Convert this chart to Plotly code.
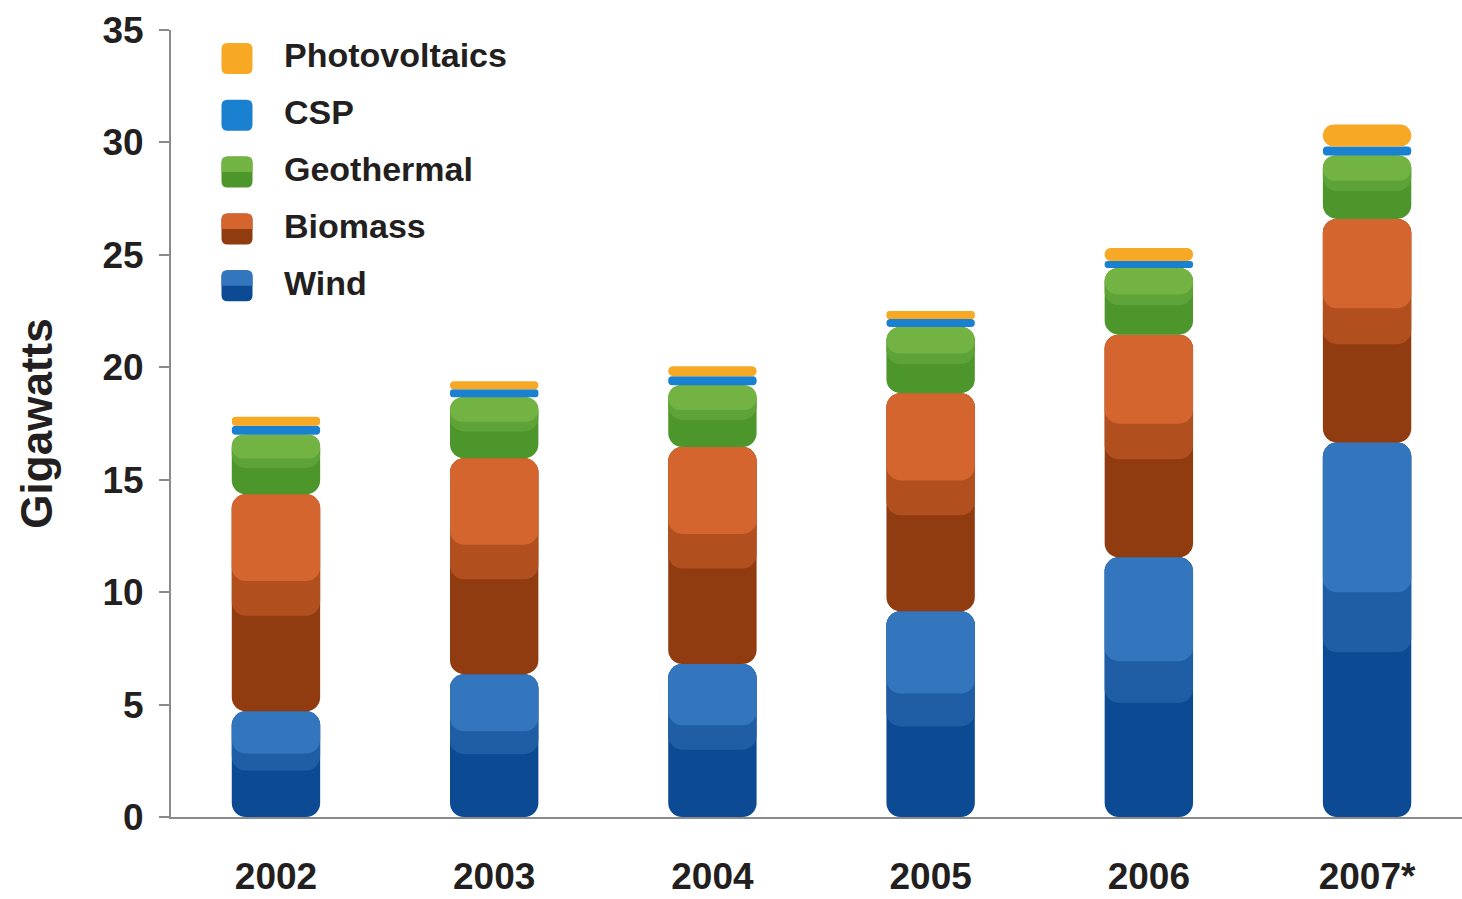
import plotly.graph_objects as go
import numpy as np

years = ["2002", "2003", "2004", "2005", "2006", "2007*"]
wind = [4.7, 6.35, 6.8, 9.15, 11.55, 16.65]
biomass = [9.65, 9.6, 9.65, 9.7, 9.9, 9.95]
geothermal = [2.65, 2.72, 2.75, 2.94, 2.97, 2.82]
csp = [0.4, 0.35, 0.4, 0.36, 0.31, 0.4]
photovoltaics = [0.4, 0.36, 0.45, 0.35, 0.58, 0.98]

series_names = ["Wind", "Biomass", "Geothermal", "CSP", "Photovoltaics"]
series_values = [wind, biomass, geothermal, csp, photovoltaics]
upper_colors = ["#3476bd", "#d4652f", "#72b344", "#1a80d0", "#f7a825"]
middle_colors = ["#1f5ea5", "#b24f1e", "#5ea337", "#1a80d0", "#f7a825"]
lower_colors = ["#0c4b93", "#903b10", "#4d962b", "#1a80d0", "#f7a825"]
two_tone = [True, True, True, False, False]

FONT = "Liberation Sans, Arial, sans-serif"
TXT = "#231f20"
W, H = 1462, 899
L, R, T, B = 171, 0, 30, 82
BAR_W = 0.405

fig = go.Figure()
x_idx = list(range(len(years)))
bottom = np.zeros(len(years))
for name, vals, cu, cm, cl, tt in zip(series_names, series_values, upper_colors,
                                       middle_colors, lower_colors, two_tone):
    v = np.array(vals, dtype=float)
    fig.add_trace(go.Bar(x=x_idx, y=v, base=bottom.copy(), name=name, width=BAR_W,
                         marker=dict(color=cl, cornerradius=14, line=dict(width=0)),
                         showlegend=False, customdata=v,
                         hovertemplate=name + ": %{customdata} GW<extra></extra>"))
    if tt:
        for frac, col in ((0.44, cm), (0.6, cu)):
            fig.add_trace(go.Bar(x=x_idx, y=v * (1 - frac), base=bottom + v * frac, name=name,
                                 width=BAR_W, marker=dict(color=col, cornerradius=14, line=dict(width=0)),
                                 showlegend=False, hoverinfo="skip"))
    bottom = bottom + v

# custom legend (top to bottom: Photovoltaics ... Wind)
pw = W - L - R
ph = H - T - B
legend_order = list(range(len(series_names)))[::-1]
shapes = []
annotations = []
s = 15.5
r = 6
full_sq = (f"M {-s+r},{-s} L {s-r},{-s} Q {s},{-s} {s},{-s+r} L {s},{s-r} Q {s},{s} {s-r},{s} "
           f"L {-s+r},{s} Q {-s},{s} {-s},{s-r} L {-s},{-s+r} Q {-s},{-s} {-s+r},{-s} Z")
top_half = (f"M {-s},0 L {-s},{s-r} Q {-s},{s} {-s+r},{s} L {s-r},{s} Q {s},{s} {s},{s-r} L {s},0 Z")
for k, si in enumerate(legend_order):
    cy = 58.5 + 56.8 * k
    ay = (H - B - cy) / ph
    ax = (237 - L) / pw
    shapes.append(dict(type="path", xref="paper", yref="paper", xsizemode="pixel",
                       ysizemode="pixel", xanchor=ax, yanchor=ay, path=full_sq,
                       fillcolor=lower_colors[si], line=dict(width=0), layer="above"))
    if two_tone[si]:
        shapes.append(dict(type="path", xref="paper", yref="paper", xsizemode="pixel",
                           ysizemode="pixel", xanchor=ax, yanchor=ay, path=top_half,
                           fillcolor=upper_colors[si], line=dict(width=0), layer="above"))
    annotations.append(dict(x=(282 - L) / pw, y=ay, xref="paper", yref="paper", xanchor="left",
                            yanchor="middle", yshift=3, text=series_names[si], showarrow=False,
                            font=dict(family=FONT, size=34, color=TXT, weight="bold")))

fig.update_layout(
    width=W, height=H,
    margin=dict(l=L, r=R, t=T, b=B, autoexpand=False),
    paper_bgcolor="white", plot_bgcolor="white",
    barmode="overlay",
    shapes=shapes, annotations=annotations,
    showlegend=False,
    xaxis=dict(tickmode="array", tickvals=x_idx, ticktext=years, range=[-0.481, 5.435],
               showgrid=False, zeroline=False, showline=True, linecolor="#8a8a8a", linewidth=2,
               ticks="", ticklabelstandoff=26, automargin=False,
               tickfont=dict(family=FONT, size=37, color=TXT, weight="bold")),
    yaxis=dict(range=[0, 35], tickvals=[0, 5, 10, 15, 20, 25, 30, 35], showgrid=False, zeroline=False,
               showline=True, linecolor="#8a8a8a", linewidth=2, ticks="outside", ticklen=10,
               tickcolor="#8a8a8a", tickwidth=2, ticklabelstandoff=8, automargin=False,
               tickfont=dict(family=FONT, size=37, color=TXT, weight="bold"),
               title=dict(text="Gigawatts", standoff=36,
                          font=dict(family=FONT, size=44, color=TXT, weight="bold"))),
)

fig.write_html("out.html")
